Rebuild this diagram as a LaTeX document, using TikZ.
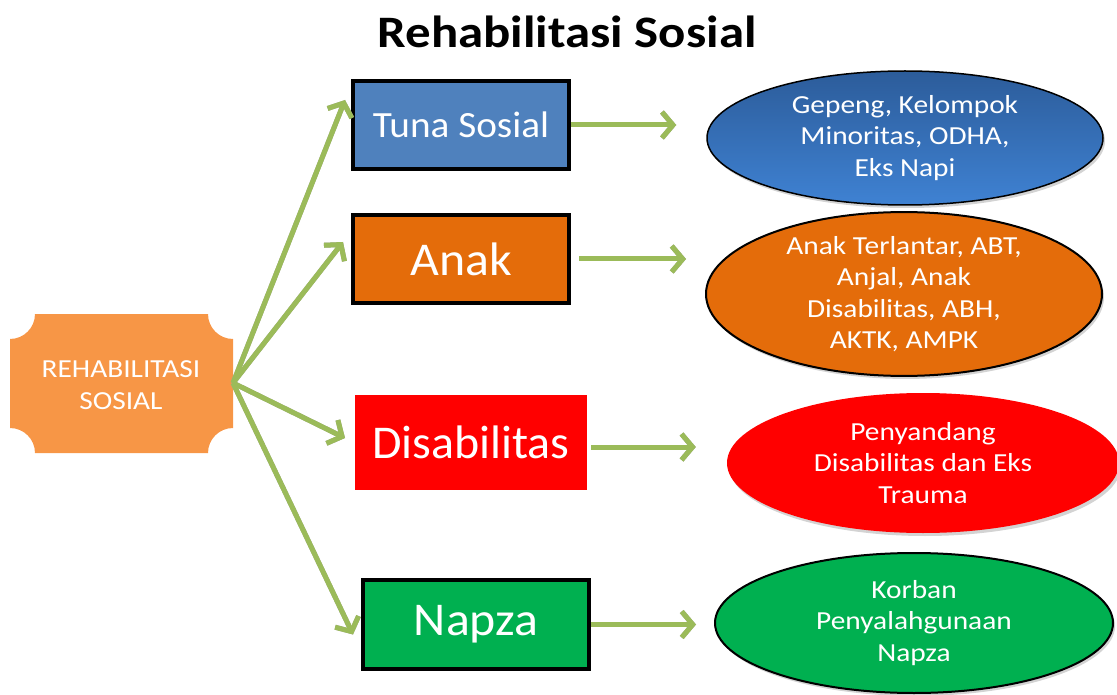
\documentclass[tikz,border=0pt]{standalone}
\usepackage{fontspec}
\setmainfont{Carlito}
\newfontfamily\wideA[FakeStretch=1.13]{Carlito}
\newfontfamily\wideB[FakeStretch=1.06]{Carlito}
\newfontfamily\wideC[FakeStretch=1.02]{Carlito}
\usetikzlibrary{arrows.meta,shapes.geometric,shadows,calc}
\definecolor{argreen}{HTML}{9BBB59}
\definecolor{tblue}{HTML}{4F81BD}
\definecolor{aorange}{HTML}{E46C0A}
\definecolor{ngreen}{HTML}{00B050}
\definecolor{plaque}{HTML}{F79646}
\definecolor{eblueT}{HTML}{2C5C9A}
\definecolor{eblueB}{HTML}{3F82D3}
\begin{document}
\begin{tikzpicture}[x=1pt,y=-1pt,
  box/.style={rectangle, draw=black, line width=4pt, text=white, inner sep=0pt,
     drop shadow={shadow xshift=2pt,shadow yshift=-2pt,opacity=0.35}},
  ell/.style={ellipse, inner sep=0pt, text=white, align=center,
     font=\wideA\fontsize{26pt}{31.5pt}\selectfont,
     drop shadow={shadow xshift=2pt,shadow yshift=-3pt,opacity=0.35}},
  arr/.style={draw=argreen, line width=5pt, -{Straight Barb[length=11pt,width=26pt]}},
  arrsh/.style={draw=black!35, line width=5pt, -{Straight Barb[length=11pt,width=26pt]}, xshift=1.5pt, yshift=-2pt}
]
\useasboundingbox (0,0) rectangle (1117,695);

% title
\node[font=\wideA\fontsize{45pt}{50pt}\selectfont\bfseries] (title) at (567,32) {Rehabilitasi Sosial};

% plaque
\fill[plaque] (35,314) -- (208,314) .. controls (208,327.8) and (219.2,339) .. (233,339)
  -- (233,428) .. controls (219.2,428) and (208,439.2) .. (208,453)
  -- (35,453) .. controls (35,439.2) and (23.8,428) .. (10,428)
  -- (10,339) .. controls (23.8,339) and (35,327.8) .. (35,314) -- cycle;
\node[text=white, align=center, font=\wideA\fontsize{26pt}{32pt}\selectfont] (src) at (121,385) {REHABILITASI\\SOSIAL};
\coordinate (hub) at (233,383);

% boxes
\node[box, fill=tblue, minimum width=216pt, minimum height=88pt, font=\wideB\fontsize{37pt}{40pt}\selectfont] (tuna) at (461,125) {Tuna Sosial};
\node[box, fill=aorange, minimum width=216pt, minimum height=88pt, font=\wideB\fontsize{47pt}{50pt}\selectfont] (anak) at (461,259) {Anak};
\node[rectangle, fill=red, draw=white, line width=3pt, text=white, inner sep=0pt, minimum width=235pt, minimum height=98pt,
  font=\wideC\fontsize{47pt}{50pt}\selectfont,
  drop shadow={shadow xshift=1.5pt,shadow yshift=-2pt,opacity=0.35}] (disab) at (471,442) {Disabilitas};
\node[box, fill=ngreen, minimum width=226pt, minimum height=89pt, font=\wideB\fontsize{47pt}{50pt}\selectfont] (napza) at (476,624.5) {Napza};

% ellipses
\node[ell, top color=eblueT, bottom color=eblueB, draw=black, line width=1.5pt, minimum width=396pt, minimum height=134pt] (e1) at (905,138) {Gepeng, Kelompok\\Minoritas, ODHA,\\Eks Napi};
\node[ell, fill=aorange, draw=black, line width=2pt, minimum width=396pt, minimum height=162pt] (e2) at (904,294) {Anak Terlantar, ABT,\\Anjal, Anak\\Disabilitas, ABH,\\AKTK, AMPK};
\node[ell, fill=red, minimum width=392pt, minimum height=140pt] (e3) at (923,463) {Penyandang\\Disabilitas dan Eks\\Trauma};
\node[ell, fill=ngreen, draw=black, line width=2pt, minimum width=398pt, minimum height=140pt] (e4) at (914,623) {Korban\\Penyalahgunaan\\Napza};

% connectors from hub
\coordinate (t1) at ([xshift=-6pt,yshift=25pt]tuna.west);
\coordinate (t2) at ([xshift=-8pt,yshift=17pt]anak.west);
\coordinate (t3) at ([xshift=-7pt,yshift=4pt]disab.west);
\coordinate (t4) at ([xshift=-8pt,yshift=-10pt]napza.west);
\foreach \t in {t1,t2,t3,t4}{
  \draw[arrsh] (hub) -- (\t);
}
\foreach \t in {t1,t2,t3,t4}{
  \draw[arr] (hub) -- (\t);
}

% horizontal connectors
\coordinate (h1s) at ([xshift=0pt]tuna.east);
\coordinate (h1e) at ([xshift=-30pt]tuna.east -| e1.west);
\coordinate (h2s) at ([xshift=8pt]anak.east);
\coordinate (h2e) at ([xshift=-19pt]anak.east -| e2.west);
\coordinate (h3s) at ([xshift=1pt,yshift=-5pt]disab.east);
\coordinate (h3e) at ([xshift=-31pt,yshift=-5pt]disab.east -| e3.west);
\coordinate (h4s) at ([xshift=0pt]napza.east);
\coordinate (h4e) at ([xshift=-18pt]napza.east -| e4.west);
\foreach \s/\e in {h1s/h1e,h2s/h2e,h3s/h3e,h4s/h4e}{
  \draw[arrsh] (\s) -- (\e);
  \draw[arr] (\s) -- (\e);
}
\end{tikzpicture}
\end{document}
